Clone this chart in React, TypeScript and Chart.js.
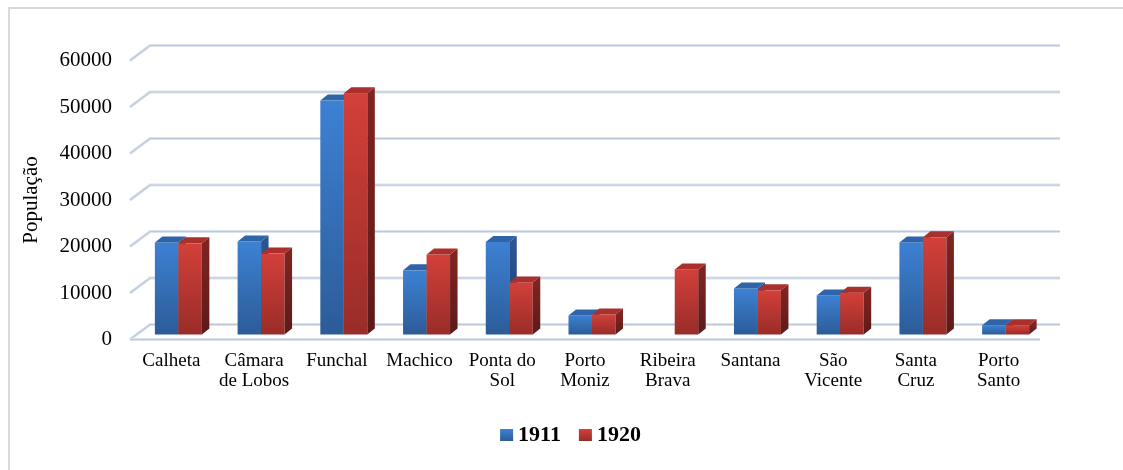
import React, { useEffect, useRef } from 'react';
import { Chart, registerables } from 'chart.js';

Chart.register(...registerables);

const categories: string[][] = [
  ['Calheta'],
  ['Câmara', 'de Lobos'],
  ['Funchal'],
  ['Machico'],
  ['Ponta do', 'Sol'],
  ['Porto', 'Moniz'],
  ['Ribeira', 'Brava'],
  ['Santana'],
  ['São', 'Vicente'],
  ['Santa', 'Cruz'],
  ['Porto', 'Santo'],
];
const seriesNames = ['1911', '1920'];
const values1911: (number | null)[] = [19800, 20000, 50300, 13800, 19900, 4100, null, 9900, 8400, 19800, 2000];
const values1920: (number | null)[] = [19600, 17400, 51900, 17200, 11200, 4300, 14000, 9500, 9000, 20900, 2000];
const yTickValues = [0, 10000, 20000, 30000, 40000, 50000, 60000];
const yTitle = 'População';

// 3D styling constants
const FLOOR_DX = 20;
const FLOOR_DY = 15;
const SHIFT_X = 7;
const SHIFT_Y = 5;
const BAR_DX = 7.5;
const BAR_DY = 6;
const FONT = "'Liberation Serif', 'Times New Roman', serif";

const palette = [
  { frontTop: '#3d81d3', frontBot: '#2c5c98', sideTop: '#2a5594', sideBot: '#1e3f6e', top: '#2f64a9', legTop: '#3d81d3', legBot: '#2c5c98' },
  { frontTop: '#d3403a', frontBot: '#992c28', sideTop: '#7f2422', sideBot: '#5c1a19', top: '#a9302c', legTop: '#d3403a', legBot: '#992c28' },
];

const threeD = {
  id: 'threeD',
  beforeDatasetsDraw(chart: any) {
    const { ctx, chartArea, scales } = chart;
    const ys = scales.y;
    ctx.save();
    ctx.lineCap = 'butt';
    for (const v of yTickValues) {
      const py = ys.getPixelForValue(v);
      ctx.beginPath();
      ctx.moveTo(chartArea.left, py);
      ctx.lineTo(chartArea.left + FLOOR_DX, py - FLOOR_DY);
      ctx.lineTo(chartArea.right + FLOOR_DX, py - FLOOR_DY);
      ctx.lineWidth = 3;
      ctx.strokeStyle = '#dbe3ef';
      ctx.stroke();
      ctx.lineWidth = 1.2;
      ctx.strokeStyle = '#bdc8da';
      ctx.stroke();
    }
    const p0 = ys.getPixelForValue(0);
    ctx.beginPath();
    ctx.moveTo(chartArea.left, p0);
    ctx.lineTo(chartArea.right, p0);
    ctx.lineWidth = 3;
    ctx.strokeStyle = '#dbe3ef';
    ctx.stroke();
    ctx.lineWidth = 1.2;
    ctx.strokeStyle = '#bdc8da';
    ctx.stroke();
    ctx.restore();
  },
  afterDatasetsDraw(chart: any) {
    const { ctx } = chart;
    const metas = [0, 1].map((i) => chart.getDatasetMeta(i));
    const data = [values1911, values1920];
    ctx.save();
    ctx.translate(SHIFT_X, -SHIFT_Y);
    for (let i = 0; i < categories.length; i++) {
      for (let d = 0; d < 2; d++) {
        if (data[d][i] === null || data[d][i] === undefined) continue;
        const el = metas[d].data[i];
        if (!el) continue;
        const { x, y, base, width } = el.getProps(['x', 'y', 'base', 'width'], true);
        const x0 = x - width / 2;
        const x1 = x + width / 2;
        const c = palette[d];
        // front
        const gf = ctx.createLinearGradient(0, y, 0, base);
        gf.addColorStop(0, c.frontTop);
        gf.addColorStop(1, c.frontBot);
        ctx.fillStyle = gf;
        ctx.fillRect(x0, y, x1 - x0, base - y);
        // side
        const gs = ctx.createLinearGradient(0, y, 0, base);
        gs.addColorStop(0, c.sideTop);
        gs.addColorStop(1, c.sideBot);
        ctx.fillStyle = gs;
        ctx.beginPath();
        ctx.moveTo(x1, y);
        ctx.lineTo(x1 + BAR_DX, y - BAR_DY);
        ctx.lineTo(x1 + BAR_DX, base - BAR_DY);
        ctx.lineTo(x1, base);
        ctx.closePath();
        ctx.fill();
        // top
        ctx.fillStyle = c.top;
        ctx.beginPath();
        ctx.moveTo(x0, y);
        ctx.lineTo(x1, y);
        ctx.lineTo(x1 + BAR_DX, y - BAR_DY);
        ctx.lineTo(x0 + BAR_DX, y - BAR_DY);
        ctx.closePath();
        ctx.fill();
      }
    }
    ctx.restore();
  },
  afterDraw(chart: any) {
    const { ctx } = chart;
    ctx.save();
    ctx.font = `bold 22px ${FONT}`;
    ctx.textBaseline = 'alphabetic';
    ctx.textAlign = 'left';
    const box = 13;
    const gap = 5;
    const itemGap = 18;
    const widths = seriesNames.map((s) => box + gap + ctx.measureText(s).width);
    const total = widths.reduce((a, b) => a + b, 0) + itemGap * (seriesNames.length - 1);
    let x = 570.5 - total / 2;
    const baseline = 441;
    seriesNames.forEach((s, i) => {
      const c = palette[i];
      const g = ctx.createLinearGradient(0, baseline - 12, 0, baseline);
      g.addColorStop(0, c.legTop);
      g.addColorStop(1, c.legBot);
      ctx.fillStyle = g;
      ctx.fillRect(x, baseline - 12, box, 12);
      ctx.fillStyle = '#000';
      ctx.fillText(s, x + box + gap, baseline);
      x += widths[i] + itemGap;
    });
    ctx.restore();
  },
};

export default function App() {
  const ref = useRef<HTMLCanvasElement>(null);
  useEffect(() => {
    const chart = new Chart(ref.current as HTMLCanvasElement, {
      type: 'bar',
      data: {
        labels: categories,
        datasets: [
          { label: seriesNames[0], data: values1911, backgroundColor: 'rgba(0,0,0,0)', borderWidth: 0 },
          { label: seriesNames[1], data: values1920, backgroundColor: 'rgba(0,0,0,0)', borderWidth: 0 },
        ],
      },
      options: {
        responsive: false,
        animation: false,
        devicePixelRatio: 1,
        layout: { padding: { top: 60.5, right: 83, bottom: 0, left: 0 } },
        datasets: { bar: { categoryPercentage: 0.568, barPercentage: 1.0 } },
        plugins: {
          legend: { display: false },
          tooltip: { enabled: false },
          title: { display: false },
        },
        scales: {
          x: {
            grid: { display: false, drawTicks: false },
            border: { display: false },
            ticks: {
              autoSkip: false,
              maxRotation: 0,
              minRotation: 0,
              padding: 11,
              color: '#000',
              font: { family: FONT, size: 19, lineHeight: 1.08 },
            },
            afterFit: (scale: any) => {
              scale.height = 130.5;
            },
          },
          y: {
            min: 0,
            max: 60000,
            grid: { display: false, drawTicks: false },
            border: { display: false },
            afterBuildTicks: (scale: any) => {
              scale.ticks = yTickValues.map((v) => ({ value: v }));
            },
            ticks: {
              padding: 18,
              color: '#000',
              font: { family: FONT, size: 21 },
              callback: (v: any) => String(v),
            },
            title: {
              display: true,
              text: yTitle,
              color: '#000',
              font: { family: FONT, size: 21 },
              padding: { top: 18.4, bottom: 0 },
            },
            afterFit: (scale: any) => {
              scale.width = 130;
            },
          },
        },
      },
      plugins: [threeD],
    });
    return () => chart.destroy();
  }, []);
  return (
    <div style={{ position: 'fixed', left: 0, top: 0, width: 1123, height: 470, background: '#fff', overflow: 'hidden' }}>
      <div
        style={{
          position: 'absolute',
          left: 8,
          top: 7,
          width: 1200,
          height: 600,
          borderLeft: '2px solid #d9d9d9',
          borderTop: '2px solid #d9d9d9',
        }}
      />
      <canvas ref={ref} width={1123} height={470} style={{ position: 'absolute', left: 0, top: 0, width: 1123, height: 470 }} />
    </div>
  );
}
